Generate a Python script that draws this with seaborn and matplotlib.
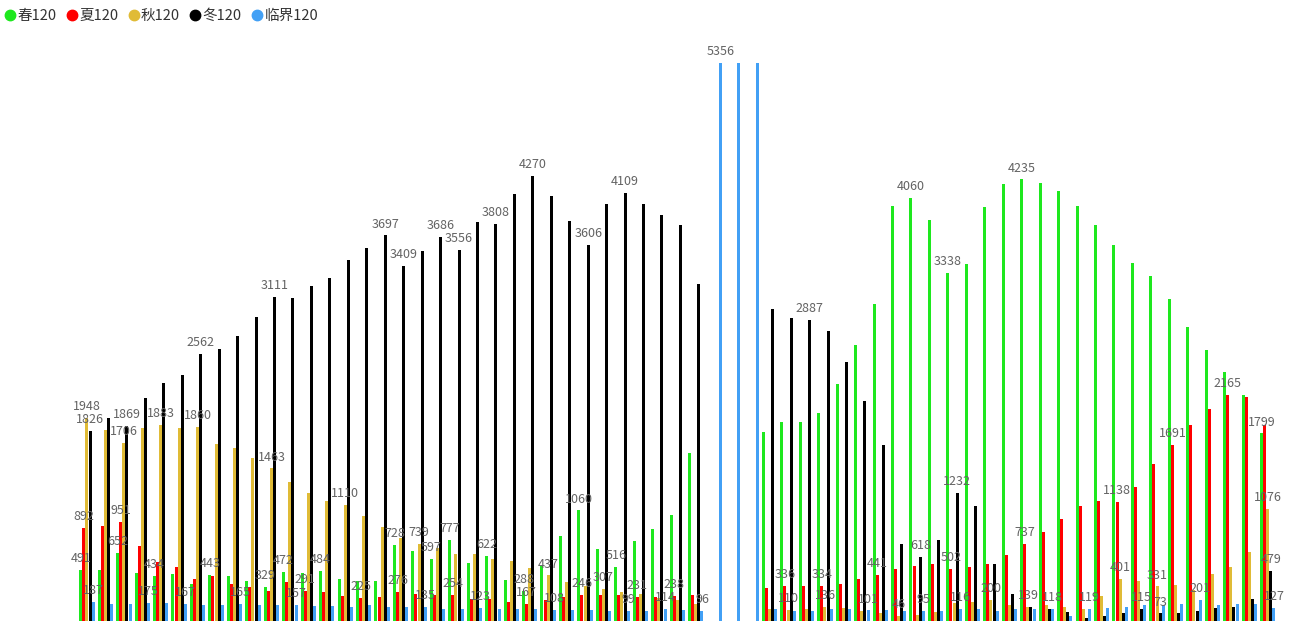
import numpy as np
import pandas as pd
import matplotlib
matplotlib.use('Agg')
import matplotlib.pyplot as plt
import seaborn as sns
from matplotlib.lines import Line2D

# 65 unlabeled categories on the x axis
categories = [str(i) for i in range(1, 66)]

series_names = ['春120', '夏120', '秋120', '冬120', '临界120']
colors = ['#1ee81e', '#ff0000', '#e0bb36', '#000000', '#42a0f5']

spring = [491, 485, 652, 464, 434, 448, 355, 443, 432, 384, 329, 472, 457, 484, 400, 381, 381,
          728, 672, 597, 777, 559, 622, 393, 288, 528, 819, 1060, 691, 516, 765, 883, 1017, 1615,
          0, 0, 0,
          1810, 1906, 1913, 1993, 2274, 2645, 3042, 3982, 4060, 3848, 3338, 3425, 3969, 4193, 4235,
          4200, 4119, 3982, 3797, 3608, 3432, 3310, 3087, 2824, 2600, 2389, 2168, 1799]
summer = [892, 915, 951, 720, 569, 518, 403, 435, 355, 326, 288, 377, 291, 278, 240, 225, 230,
          276, 262, 249, 254, 208, 208, 179, 167, 201, 227, 246, 249, 249, 231, 233, 238, 249,
          0, 0, 0,
          313, 336, 338, 334, 358, 403, 441, 496, 528, 547, 502, 521, 550, 636, 737,
          854, 976, 1100, 1151, 1138, 1289, 1503, 1691, 1881, 2031, 2165, 2152, 1875]
autumn = [1948, 1833, 1706, 1849, 1883, 1849, 1860, 1698, 1657, 1561, 1463, 1337, 1231, 1151, 1110, 1007, 905,
          800, 739, 697, 643, 643, 595, 576, 512, 437, 371, 339, 307, 275, 259, 218, 201, 163,
          0, 0, 0,
          112, 110, 115, 136, 122, 99, 80, 46, 58, 83, 170, 185, 200, 154, 139,
          154, 134, 118, 240, 401, 384, 331, 345, 294, 451, 515, 665, 1076]
winter = [1826, 1945, 1869, 2140, 2281, 2360, 2562, 2607, 2735, 2914, 3111, 3096, 3214, 3288, 3464, 3576, 3697,
          3409, 3544, 3686, 3556, 3825, 3808, 4091, 4270, 4075, 3835, 3606, 4001, 4109, 3998, 3896, 3793, 3234,
          0, 0, 0,
          2991, 2904, 2887, 2779, 2488, 2114, 1689, 736, 618, 777, 1232, 1103, 547, 262, 131,
          112, 83, 32, 48, 74, 115, 73, 77, 96, 122, 131, 214, 479]
critical = [187, 163, 163, 175, 173, 167, 154, 154, 165, 154, 154, 157, 147, 144, 131, 150, 131,
            131, 135, 118, 118, 123, 118, 112, 118, 108, 106, 106, 99, 99, 99, 114, 106, 96,
            5356, 5356, 5356,
            112, 96, 96, 112, 112, 101, 106, 96, 95, 96, 116, 112, 96, 112, 118,
            118, 48, 119, 125, 137, 150, 150, 163, 201, 150, 163, 160, 127]

# which bars carry a value label (category index per series)
label_idx = {
    '春120': [0, 2, 4, 7, 10, 11, 13, 17, 19, 20, 22, 24, 27, 29, 45, 47, 51, 64],
    '夏120': [0, 2, 12, 15, 17, 20, 24, 27, 30, 32, 38, 40, 43, 47, 51, 56, 59, 62],
    '秋120': [0, 2, 4, 6, 10, 14, 18, 25, 28, 38, 40, 44, 49, 51, 56, 58, 64],
    '冬120': [0, 2, 6, 10, 16, 17, 19, 20, 22, 24, 27, 29, 39, 45, 47, 57, 58, 64],
    '临界120': [0, 3, 5, 8, 11, 18, 21, 25, 29, 31, 33, 34, 42, 45, 47, 52, 54, 60, 64],
}

values = dict(zip(series_names, [spring, summer, autumn, winter, critical]))
df = pd.DataFrame(values)
df['cat'] = categories
long = df.melt(id_vars='cat', var_name='series', value_name='value')

sns.set_theme(style='white')
plt.rcParams['font.family'] = ['Noto Sans CJK SC', 'DejaVu Sans']

W, H = 1303, 631
fig = plt.figure(figsize=(W / 100, H / 100), dpi=100)
ax = fig.add_axes([77.7 / W, 10 / H, 1199.25 / W, 583 / H])

sns.barplot(data=long, x='cat', y='value', hue='series', order=categories,
            hue_order=series_names, palette=colors, saturation=1,
            width=0.84, gap=0.04, errorbar=None, legend=False, ax=ax,
            linewidth=0, edgecolor='none')

for cont, name in zip(ax.containers, series_names):
    vals = values[name]
    labs = [str(v) if i in label_idx[name] else '' for i, v in enumerate(vals)]
    ax.bar_label(cont, labels=labs, padding=3.5, fontsize=9, color='#636363')

ax.set_xlim(-0.5, len(categories) - 0.5)
ax.set_ylim(0, 583 * 9.59)
ax.set_xticks([])
ax.set_yticks([])
ax.set_xlabel('')
ax.set_ylabel('')
sns.despine(ax=ax, left=True, bottom=True)

handles = [Line2D([0], [0], marker='o', linestyle='', markersize=7.5,
                  markerfacecolor=c, markeredgecolor=c) for c in colors]
fig.legend(handles, series_names, loc='upper left', bbox_to_anchor=(-0.009, 1.006),
           ncol=5, frameon=False, fontsize=10.5, handletextpad=-0.1,
           columnspacing=0.45, handlelength=1.2, labelcolor='#333333')

fig.savefig('out.png', dpi=100)
